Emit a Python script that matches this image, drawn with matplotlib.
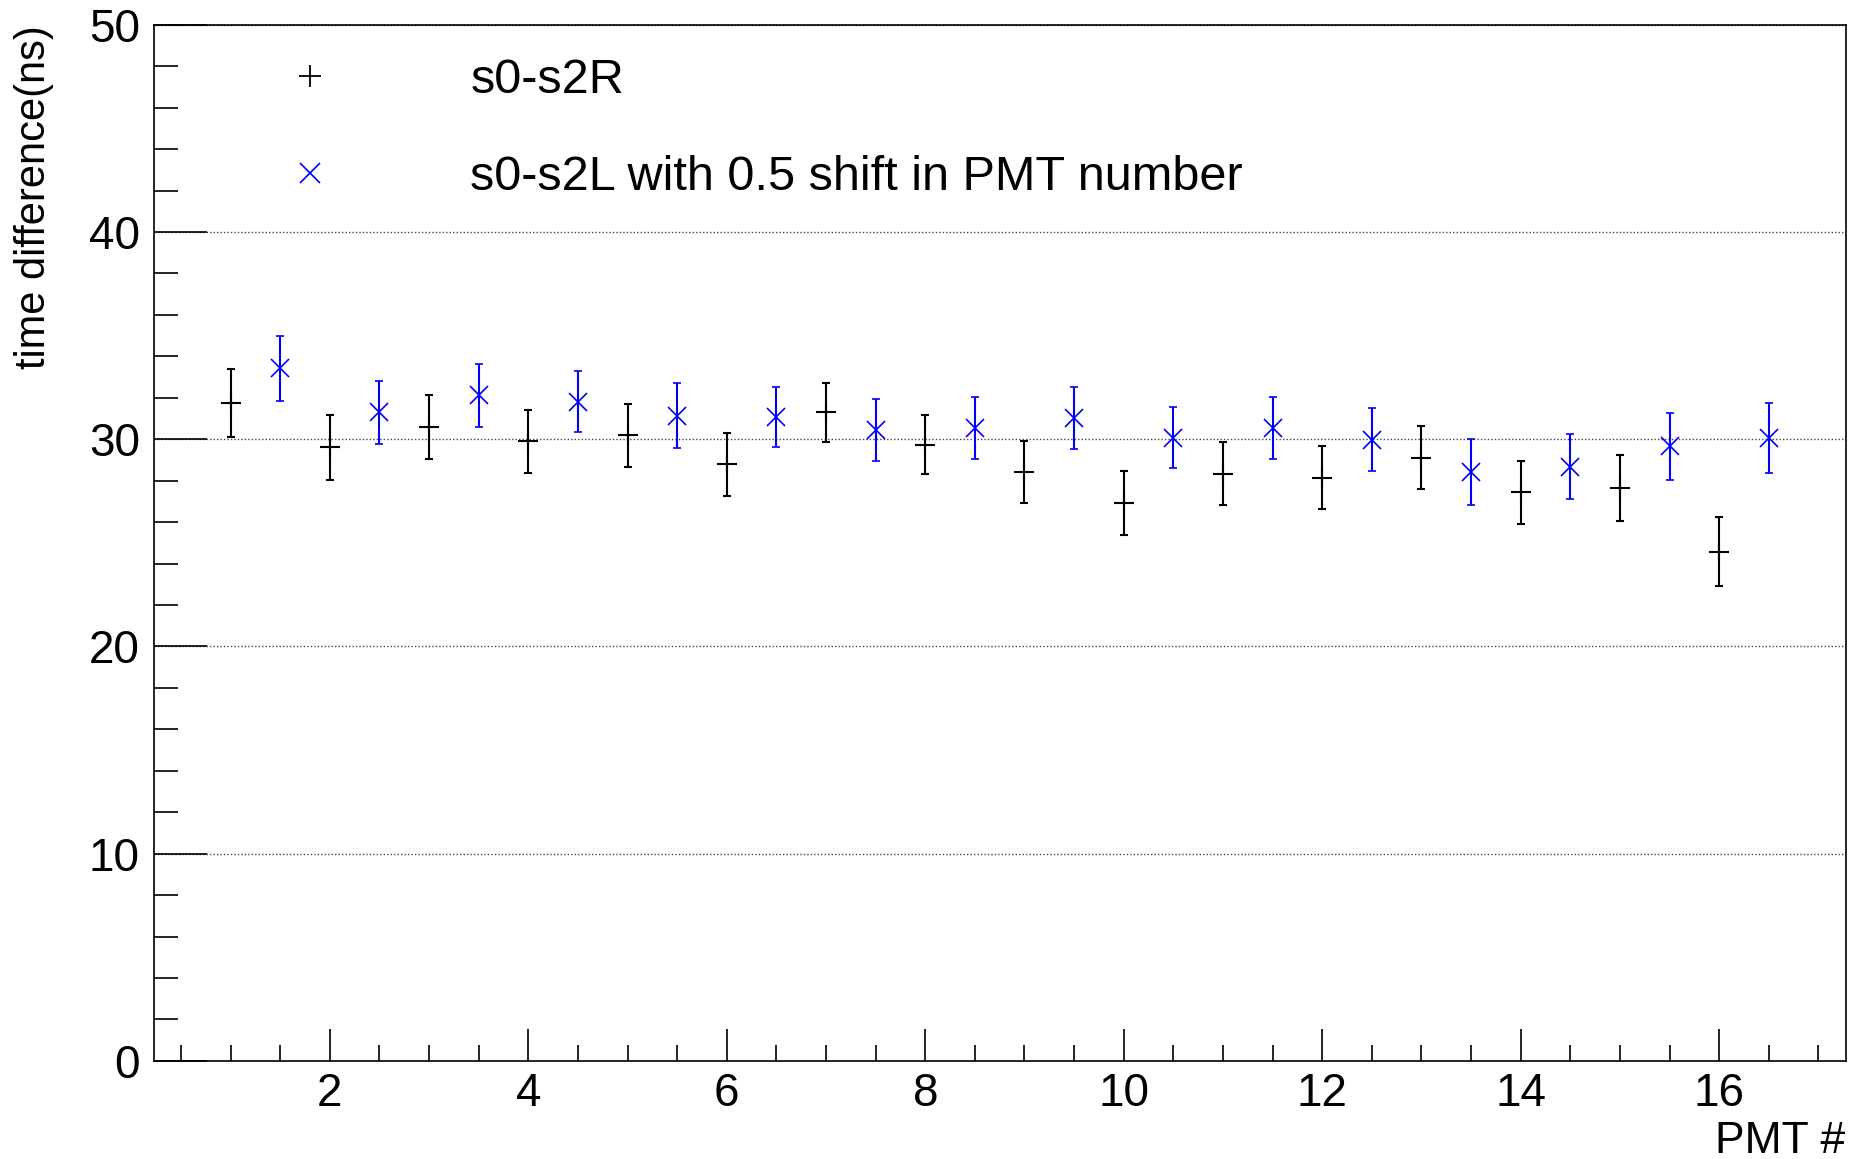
import matplotlib
matplotlib.use("Agg")
import matplotlib.pyplot as plt
from matplotlib.lines import Line2D
from matplotlib.ticker import MultipleLocator

# PMT numbers and measured time differences (ns)
pmt_r = [1, 2, 3, 4, 5, 6, 7, 8, 9, 10, 11, 12, 13, 14, 15, 16]
dt_r = [31.74, 29.61, 30.58, 29.89, 30.19, 28.79, 31.29, 29.74,
        28.41, 26.93, 28.34, 28.15, 29.10, 27.44, 27.65, 24.58]
err_r = [1.63, 1.56, 1.53, 1.54, 1.51, 1.53, 1.41, 1.44,
         1.50, 1.56, 1.53, 1.50, 1.52, 1.53, 1.60, 1.66]

pmt_l = [1.5, 2.5, 3.5, 4.5, 5.5, 6.5, 7.5, 8.5,
         9.5, 10.5, 11.5, 12.5, 13.5, 14.5, 15.5, 16.5]
dt_l = [33.43, 31.29, 32.11, 31.82, 31.14, 31.06, 30.45, 30.53,
        31.01, 30.08, 30.56, 29.98, 28.42, 28.68, 29.65, 30.05]
err_l = [1.57, 1.51, 1.51, 1.47, 1.57, 1.44, 1.50, 1.50,
         1.50, 1.47, 1.50, 1.53, 1.59, 1.58, 1.60, 1.68]

label_r = "s0-s2R"
label_l = "s0-s2L with 0.5 shift in PMT number"

plt.rcParams["font.family"] = ["Liberation Sans", "DejaVu Sans"]

fig = plt.figure(figsize=(18.54, 11.59), dpi=100)
ax = fig.add_axes([0.0829, 0.0847, 0.9126, 0.8939])

ax.errorbar(pmt_r, dt_r, yerr=err_r, fmt="+", color="black", ms=15, mew=1.5,
            elinewidth=1.5, capsize=3, capthick=1.5)
ax.errorbar(pmt_l, dt_l, yerr=err_l, fmt="x", color="#0000ff", ms=13, mew=1.2,
            elinewidth=1.5, capsize=3, capthick=1.5)

ax.set_xlim(0.225, 17.275)
ax.set_ylim(0, 50)
ax.xaxis.set_major_locator(MultipleLocator(2))
ax.xaxis.set_minor_locator(MultipleLocator(0.5))
ax.yaxis.set_major_locator(MultipleLocator(10))
ax.yaxis.set_minor_locator(MultipleLocator(2))

ax.yaxis.grid(True, which="major", linestyle=(0, (1, 1.5)), color="#444444", linewidth=1)
ax.set_axisbelow(True)

ax.tick_params(axis="both", which="both", direction="in", top=False, right=False,
               labelsize=33, width=1.2)
ax.tick_params(axis="y", which="major", length=38, pad=10)
ax.tick_params(axis="y", which="minor", length=17)
ax.tick_params(axis="x", which="major", length=23, pad=8)
ax.tick_params(axis="x", which="minor", length=11.5)
for s in ax.spines.values():
    s.set_linewidth(1.2)

ax.set_ylabel("time difference(ns)", fontsize=30, loc="top")
ax.yaxis.set_label_coords(-0.059, 1.0)
ax.set_xlabel("PMT #", fontsize=32, loc="right", labelpad=4)

handles = [Line2D([], [], ls="none", marker="+", color="black", ms=16, mew=1.3),
           Line2D([], [], ls="none", marker="x", color="#0000ff", ms=14, mew=1.2)]
ax.legend(handles, [label_r, label_l], loc="upper left", bbox_to_anchor=(0.078, 0.968),
          frameon=False, fontsize=35, borderpad=0, borderaxespad=0,
          handlelength=1.0, handletextpad=2.8, labelspacing=1.08)

fig.savefig("out.png", dpi=100)
